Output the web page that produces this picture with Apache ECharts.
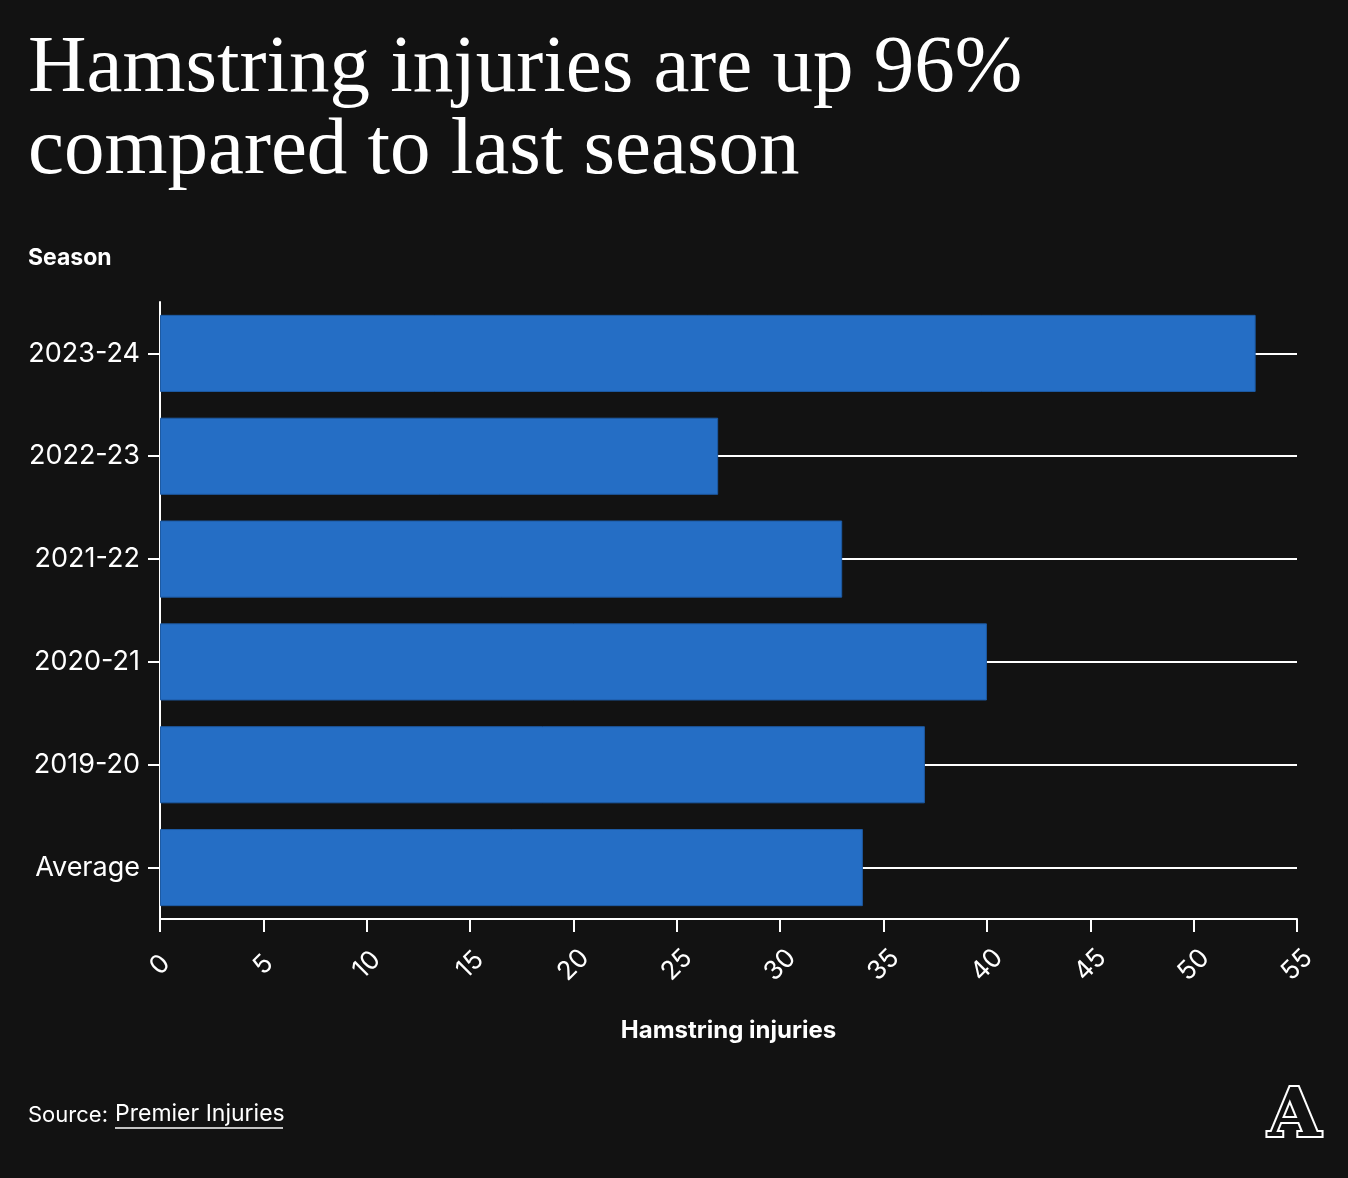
<!DOCTYPE html>
<html>
<head>
<meta charset="utf-8">
<script src="https://cdn.jsdelivr.net/npm/echarts@6/dist/echarts.min.js"></script>
<style>
html,body{margin:0;padding:0;background:#121212;}
#chart{width:1348px;height:1178px;}
</style>
</head>
<body>
<div id="chart"></div>
<script>
const categories = ['Average', '2019-20', '2020-21', '2021-22', '2022-23', '2023-24'];
const injuries = [34, 37, 40, 33, 27, 53];
const xTicks = [0, 5, 10, 15, 20, 25, 30, 35, 40, 45, 50, 55];

const chart = echarts.init(document.getElementById('chart'));
const sans = 'Inter, Roboto, "Noto Sans", sans-serif';
chart.setOption({
  backgroundColor: '#121212',
  animation: false,
  title: {
    text: 'Hamstring injuries are up 96%\ncompared to last season',
    left: 23, top: 24,
    textStyle: { color: '#ffffff', fontFamily: '"Liberation Serif", serif', fontSize: 81, fontWeight: 'normal', lineHeight: 82 }
  },
  grid: { left: 160, right: 51, top: 302, bottom: 259, containLabel: false },
  xAxis: {
    type: 'value', min: xTicks[0], max: xTicks[xTicks.length - 1], interval: 5,
    name: 'Hamstring injuries', nameLocation: 'middle', nameGap: 100,
    nameTextStyle: { color: '#ffffff', fontFamily: sans, fontSize: 24, fontWeight: 'bold' },
    axisLine: { show: true, lineStyle: { color: '#ffffff', width: 2 } },
    axisTick: { show: true, length: 13, lineStyle: { color: '#ffffff', width: 2 } },
    axisLabel: { color: '#ffffff', fontFamily: sans, fontSize: 26, rotate: 45, align: 'center', verticalAlign: 'middle', margin: 46 },
    splitLine: { show: false }
  },
  yAxis: {
    type: 'category', data: categories,
    axisLine: { show: true, lineStyle: { color: '#ffffff', width: 2 } },
    axisTick: { show: true, alignWithLabel: true, length: 12, lineStyle: { color: '#ffffff', width: 2 } },
    axisLabel: { color: '#ffffff', fontFamily: sans, fontSize: 27, margin: 20 },
    splitLine: { show: false }
  },
  series: [{
    type: 'bar', data: injuries, barCategoryGap: '25%', z: 2,
    itemStyle: { color: '#256ec5', borderColor: '#1d5aa3', borderWidth: 1 },
    markLine: {
      z: 1, silent: true, symbol: 'none', label: { show: false },
      lineStyle: { color: '#ffffff', width: 2, type: 'solid' },
      data: categories.map(c => ({ yAxis: c }))
    }
  }],
  graphic: [
    { type: 'text', left: 28, top: 247, style: { text: 'Season', fill: '#ffffff', font: 'bold 23px ' + sans } },
    { type: 'text', left: 28, top: 1104, style: { text: 'Source:', fill: '#ffffff', font: '22px ' + sans } },
    { type: 'text', left: 115, top: 1103, style: { text: 'Premier Injuries', fill: '#ffffff', font: '23px ' + sans } },
    { type: 'line', shape: { x1: 115, y1: 1128, x2: 283, y2: 1128 }, style: { stroke: '#ffffff', lineWidth: 1.5 } },
    { type: 'text', left: 1266, top: 1082, style: { text: 'A', fill: '#121212', stroke: '#ffffff', lineWidth: 4, font: 'bold 68px "DejaVu Serif", serif' } }
  ]
});
</script>
</body>
</html>
